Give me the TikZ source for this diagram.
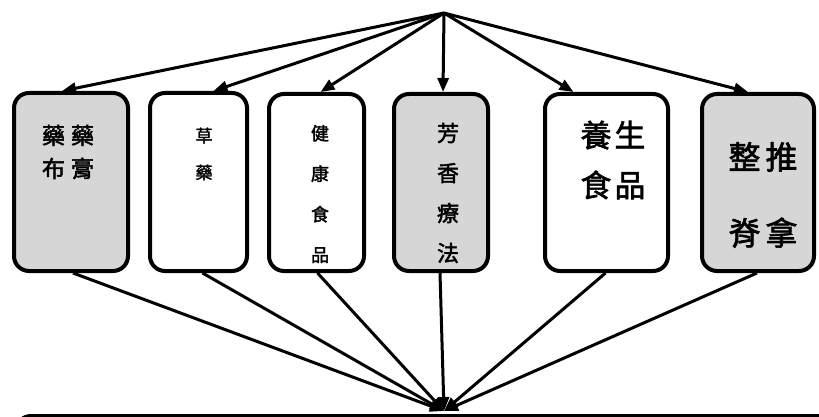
\documentclass[tikz,border=0pt]{standalone}
\usepackage{fontspec}
\newfontfamily\cjk[FakeBold=2]{Noto Sans CJK TC}
\usetikzlibrary{arrows.meta,calc}
\tikzset{
  card/.style={draw=black, line width=4pt, rounded corners=15pt, inner sep=0pt},
  plaincard/.style={card, fill=white},
  greycard/.style={card, fill=black!16},
  label/.style={inner sep=0pt, align=center, font=\cjk},
  link/.style={line width=3pt, -{Triangle[length=14pt,width=11pt]}}
}
\begin{document}
\begin{tikzpicture}[x=1pt,y=-1pt]
  \useasboundingbox (0,0) rectangle (819,417);
  \clip (0,0) rectangle (819,417);
  % shared source above and the wide base box below
  \coordinate (src) at (444,13);
  \node[plaincard, anchor=north west, minimum width=880pt, minimum height=120pt] (base) at (14,414) {};
  \coordinate (hub) at (444,411);
  % the six category cards
  \node[greycard,  minimum width=114pt, minimum height=178pt] (b1) at (71,182) {};
  \node[plaincard, minimum width=97pt,  minimum height=178pt] (b2) at (198.5,182) {};
  \node[plaincard, minimum width=95pt,  minimum height=177pt] (b3) at (316.5,182.5) {};
  \node[greycard,  minimum width=94pt,  minimum height=177pt] (b4) at (441,182.5) {};
  \node[plaincard, minimum width=123pt, minimum height=177pt] (b5) at (606.5,182.5) {};
  \node[greycard,  minimum width=112pt, minimum height=177pt] (b6) at (758,182.5) {};
  % card texts
  \node[label, font=\cjk\fontsize{23}{33}\selectfont] (t1) at (68,152) {藥\hspace{6pt}藥\\布\hspace{6pt}膏};
  \node[label, font=\cjk\fontsize{17}{37}\selectfont] (t2) at (204,154) {草\\藥};
  \node[label, font=\cjk\fontsize{18}{40.5}\selectfont] (t3) at (320,194) {健\\康\\食\\品};
  \node[label, font=\cjk\fontsize{22}{40}\selectfont] (t4) at (448,193) {芳\\香\\療\\法};
  \node[label, font=\cjk\fontsize{31}{50}\selectfont] (t5) at (613,160) {養\hspace{3pt}生\\食\hspace{3pt}品};
  \node[label, font=\cjk\fontsize{32}{76}\selectfont] (t6) at (763,195) {整\hspace{5pt}推\\脊\hspace{5pt}拿};
  % arrows from the source into each card
  \draw[link] (src) -- ($(b1.north)+(-9,0)$);
  \draw[link] (src) -- ($(b2.north)+(15,0)$);
  \draw[link] (src) -- ($(b3.north)+(4,0)$);
  \draw[link] (src) -- ($(b4.north)+(2,0)$);
  \draw[link] (src) -- ($(b5.north)+(-33,0)$);
  \draw[link] (src) -- ($(b6.north)+(-10,0)$);
  % arrows from each card into the base box
  \draw[link] ($(b1.south)+(2,0)$) -- (hub);
  \draw[link] ($(b2.south)+(4,0)$) -- (hub);
  \draw[link] ($(b3.south)+(1,0)$) -- (hub);
  \draw[link] ($(b4.south)+(-1,0)$) -- (hub);
  \draw[link] ($(b5.south)+(-1,0)$) -- (hub);
  \draw[link] ($(b6.south)+(-1,0)$) -- (hub);
\end{tikzpicture}
\end{document}
